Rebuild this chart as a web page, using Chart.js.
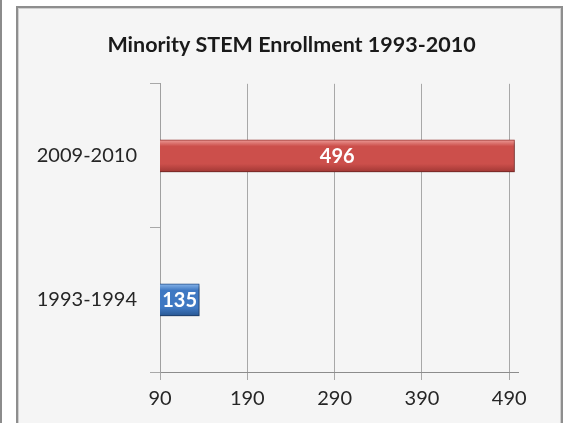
<!DOCTYPE html>
<html>
<head>
<meta charset="utf-8">
<title>Minority STEM Enrollment 1993-2010</title>
<script src="https://cdn.jsdelivr.net/npm/chart.js@4.4.1/dist/chart.umd.min.js"></script>
<style>
  html, body { margin: 0; padding: 0; background: #ffffff; }
  #wrap { position: relative; width: 569px; height: 423px; overflow: hidden; }
  #leftline { position: absolute; left: 0; top: 0; width: 2px; height: 423px; background: #8c8c8c; }
  #frame {
    position: absolute; left: 16px; top: 6px; width: 543px; height: 440px;
    border: 2px solid #8e8e8e; box-shadow: inset 0 0 0 1px #d0d0d0;
    background: #f5f5f5;
  }
  #myChart { position: absolute; left: 0; top: 0; }
</style>
</head>
<body>
<div id="wrap">
  <div id="leftline"></div>
  <div id="frame"></div>
  <canvas id="myChart" width="569" height="423"></canvas>
</div>
<script>
const categories = ["2009-2010", "1993-1994"];
const enrollment = [496, 135];
const xTicks = [90, 190, 290, 390, 490];
const chartTitle = "Minority STEM Enrollment 1993-2010";

// gradient per bar, top light -> bottom dark (office style bevel)
const barShades = [
  ["#ec9a96", "#cc4f4b", "#a23835"],
  ["#86b4ea", "#3f78c2", "#285792"]
];

function barFill(context) {
  const chart = context.chart;
  const yScale = chart.scales.y;
  const shades = barShades[context.dataIndex] || barShades[0];
  if (!yScale) return shades[1];
  const yc = yScale.getPixelForValue(context.dataIndex);
  if (!isFinite(yc)) return shades[1];
  const g = chart.ctx.createLinearGradient(0, yc - 16, 0, yc + 16);
  g.addColorStop(0, shades[0]);
  g.addColorStop(0.2, shades[1]);
  g.addColorStop(0.75, shades[1]);
  g.addColorStop(1, shades[2]);
  return g;
}

// soft shadow under bars
const barShadow = {
  id: "barShadow",
  beforeDatasetsDraw(chart) {
    const ctx = chart.ctx;
    ctx.save();
    ctx.shadowColor = "rgba(0,0,0,0.35)";
    ctx.shadowOffsetX = 1;
    ctx.shadowOffsetY = 2;
    ctx.shadowBlur = 3;
  },
  afterDatasetsDraw(chart) {
    chart.ctx.restore();
  }
};

// value labels inside the bars
const valueLabels = {
  id: "valueLabels",
  afterDatasetsDraw(chart) {
    const ctx = chart.ctx;
    const meta = chart.getDatasetMeta(0);
    const left = chart.chartArea.left;
    ctx.save();
    ctx.fillStyle = "#ffffff";
    ctx.font = "bold 20px Lato";
    ctx.textAlign = "center";
    ctx.textBaseline = "middle";
    meta.data.forEach((bar, i) => {
      const x = (Math.max(bar.base, left) + bar.x) / 2;
      ctx.fillText(String(enrollment[i]), x, bar.y + 1);
    });
    ctx.restore();
  }
};

var ctx = document.getElementById("myChart").getContext("2d");

var myChart = new Chart(ctx, {
  type: "bar",
  data: {
    labels: categories,
    datasets: [
      {
        label: "Enrollment",
        data: enrollment,
        backgroundColor: barFill,
        borderColor: ["#9a3431", "#24508a"],
        borderWidth: 1,
        borderSkipped: false,
        barThickness: 32,
      },
    ],
  },
  options: {
    indexAxis: "y",
    responsive: false,
    animation: false,
    devicePixelRatio: 1,
    layout: { padding: { left: 14, right: 0, top: 0, bottom: 0 } },
    plugins: {
      legend: { display: false },
      tooltip: { enabled: false },
      title: {
        display: true,
        text: chartTitle,
        color: "#1a1a1a",
        font: { family: "Lato", size: 21.5, weight: "bold" },
        padding: { top: 32, bottom: 26 },
      },
    },
    scales: {
      x: {
        type: "linear",
        min: 90,
        max: 500,
        afterBuildTicks: (scale) => {
          scale.ticks = xTicks.map((v) => ({ value: v }));
        },
        afterFit: (scale) => { scale.height = 51; },
        grid: {
          color: "#a8a8a8",
          lineWidth: 1,
          tickLength: 8,
          drawTicks: true,
        },
        border: { display: true, color: "#8c8c8c" },
        ticks: {
          color: "#262626",
          padding: 7,
          font: { family: "Lato", size: 20 },
        },
      },
      y: {
        afterFit: (scale) => { scale.width = 146; },
        grid: {
          offset: true,
          drawOnChartArea: false,
          color: "#a8a8a8",
          tickLength: 10,
        },
        border: { display: true, color: "#a0a0a0" },
        ticks: {
          color: "#262626",
          padding: 13,
          font: { family: "Lato", size: 20 },
        },
      },
      // empty axis on the right, only keeps space so the title stays centred on the frame
      yRight: {
        type: "category",
        labels: categories,
        position: "right",
        afterFit: (scale) => { scale.width = 51; },
        grid: { display: false },
        border: { display: false },
        ticks: { display: false },
      },
    },
  },
  plugins: [barShadow, valueLabels],
});
</script>
</body>
</html>
